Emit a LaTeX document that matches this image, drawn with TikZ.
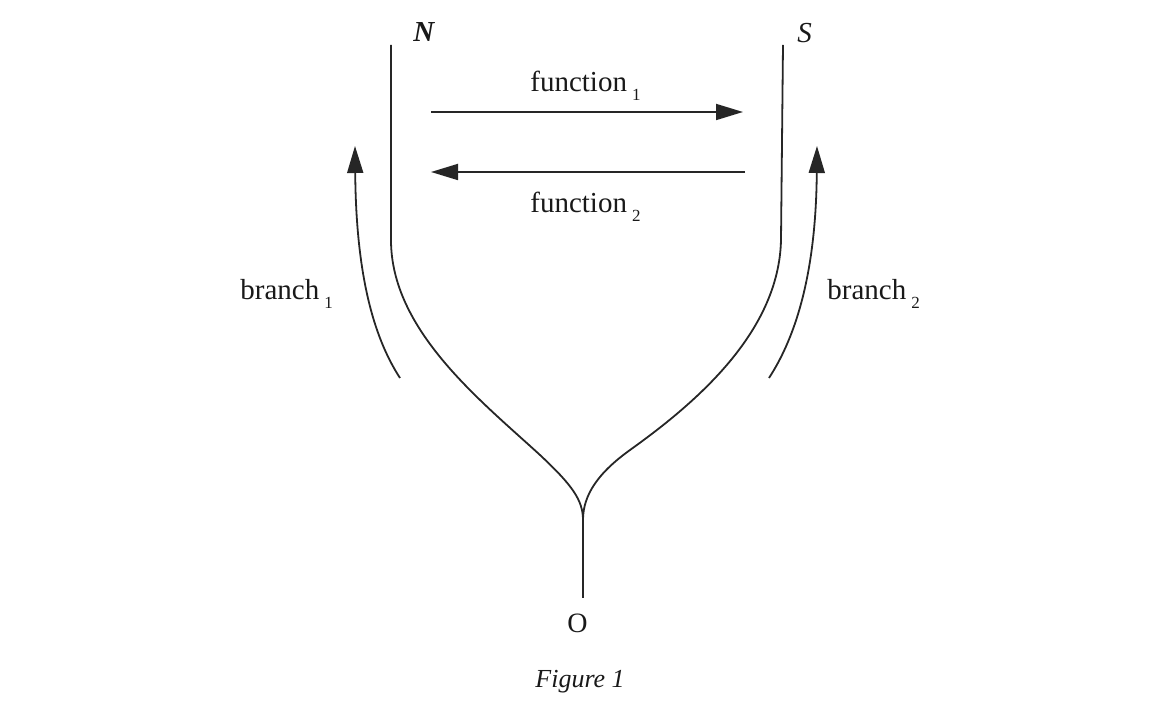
\documentclass[tikz,border=0pt]{standalone}
\usepackage{fontspec}
\setmainfont{Liberation Serif}
\usetikzlibrary{arrows.meta}
\newcommand\lowsub[1]{\hspace{2.5pt}{\fontsize{8.5}{9}\selectfont\raisebox{-4.5pt}{#1}}}
\begin{document}
\begin{tikzpicture}[x=0.5pt,y=-0.5pt,
  wire/.style={line width=0.9pt, draw=black!85},
  arr/.style={wire, -{Triangle[length=13.5pt,width=8pt]}},
  lbl/.style={font=\fontsize{14.5}{16}\selectfont, inner sep=0pt, anchor=base west, text=black!90}]
\useasboundingbox (0,0) rectangle (1158,721);
% labels
\node[lbl] (N) at (413,42) {\textbf{\textit{N}}};
\node[lbl] (S) at (797,43) {\textit{S}};
\node[lbl] (f1) at (530,92) {function\lowsub{1}};
\node[lbl] (f2) at (530,213) {function\lowsub{2}};
\node[lbl] (b1) at (240,300) {branch\lowsub{1}};
\node[lbl] (b2) at (827,300) {branch\lowsub{2}};
\node[lbl, font=\fontsize{14}{15}\selectfont] (O) at (567,633) {O};
\node[lbl, font=\fontsize{13}{14}\selectfont] (fig) at (535,688) {\textit{Figure 1}};
% coordinates
\coordinate (Ntop) at (391,45);
\coordinate (Stop) at (783,45);
\coordinate (cusp) at (583,520);
\coordinate (Obot) at (583,598);
\coordinate (f1s) at (431,112);
\coordinate (f1e) at (743,112);
\coordinate (f2s) at (745,172);
\coordinate (f2e) at (431,172);
\coordinate (b1s) at (400,378);
\coordinate (b1e) at (355,146);
\coordinate (b2s) at (769,378);
\coordinate (b2e) at (817,146);
% tree
\draw[wire] (Ntop) -- (391,240) .. controls (391,330) and (480,400) .. (540,455)
  .. controls (572,485) and (583,500) .. (cusp);
\draw[wire] (Stop) -- (781,240) .. controls (779,330) and (700,400) .. (630,450)
  .. controls (598,473) and (583,495) .. (cusp);
\draw[wire] (cusp) -- (Obot);
% arrows
\draw[arr] (f1s) -- (f1e);
\draw[arr] (f2s) -- (f2e);
\draw[arr] (b1s) .. controls (372,335) and (356,270) .. (b1e);
\draw[arr] (b2s) .. controls (797,335) and (816,270) .. (b2e);
\end{tikzpicture}
\end{document}
